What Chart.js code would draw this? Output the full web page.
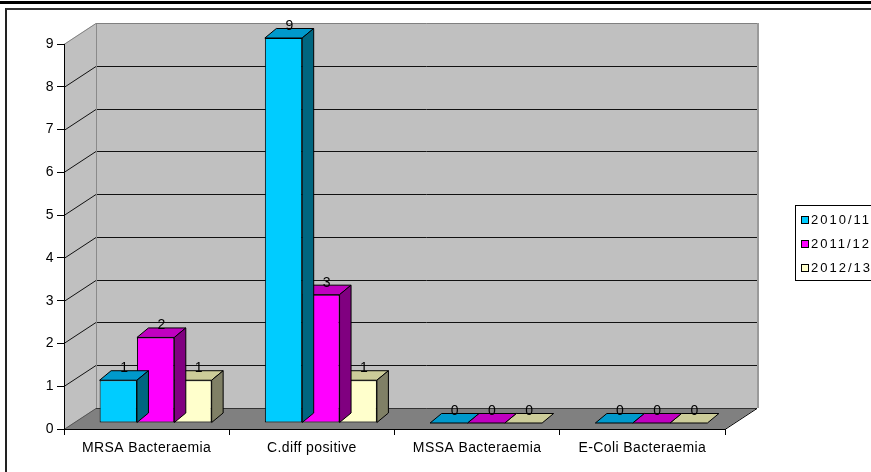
<!DOCTYPE html>
<html><head><meta charset="utf-8">
<script src="https://cdn.jsdelivr.net/npm/chart.js@4/dist/chart.umd.min.js"></script>
<style>
html,body{margin:0;padding:0;background:#fff;}
#wrap{position:relative;width:871px;height:472px;overflow:hidden;}
#rule{position:absolute;left:0;top:1px;width:871px;height:3px;background:#000;}
#frame{position:absolute;left:5px;top:8px;width:900px;height:500px;border-top:2px solid #333;border-left:2px solid #222;}
canvas{position:absolute;left:0;top:0;}
</style></head><body>
<div id="wrap"><div id="rule"></div><div id="frame"></div><canvas id="c" width="871" height="472"></canvas></div>
<script>
// ---- data ----
const categories = ['MRSA Bacteraemia', 'C.diff positive', 'MSSA Bacteraemia', 'E-Coli Bacteraemia'];
const seriesLabels = ['2010/11', '2011/12', '2012/13'];
const values2010 = [1, 9, 0, 0];
const values2011 = [2, 3, 0, 0];
const values2012 = [1, 1, 0, 0];
const yTicks = [0, 1, 2, 3, 4, 5, 6, 7, 8, 9];

// ---- styles ----
const FONT = '"Liberation Sans", Arial, sans-serif';
const frontColors = ['#00ccff', '#ff00ff', '#ffffcc'];
const topColors = ['#0099cc', '#c000c0', '#cccc99'];
const sideColors = ['#006680', '#800080', '#808066'];
const DXW = 32, DYW = -21;     // wall depth offset
const DXB = 9, DYB = -6;       // bar front plane offset
const DDX = 11.5, DDY = -9.5;  // bar depth

function poly(ctx, pts, fill, stroke) {
  ctx.beginPath();
  ctx.moveTo(pts[0][0], pts[0][1]);
  for (let i = 1; i < pts.length; i++) ctx.lineTo(pts[i][0], pts[i][1]);
  ctx.closePath();
  if (fill) { ctx.fillStyle = fill; ctx.fill(); }
  if (stroke) { ctx.strokeStyle = stroke; ctx.lineWidth = 1; ctx.stroke(); }
}
function line(ctx, x1, y1, x2, y2, color, w) {
  ctx.beginPath(); ctx.moveTo(x1, y1); ctx.lineTo(x2, y2);
  ctx.strokeStyle = color; ctx.lineWidth = w || 1; ctx.stroke();
}

const threeD = {
  id: 'threeD',
  beforeDraw(chart) {
    const ctx = chart.ctx, a = chart.chartArea, ys = chart.scales.y;
    const L = a.left, R = a.right;
    const T = Math.round(ys.getPixelForValue(yTicks[yTicks.length - 1]));
    const B = Math.round(ys.getPixelForValue(0));
    ctx.save();
    ctx.fillStyle = '#c0c0c0';
    ctx.fillRect(L + DXW, T + DYW, R - L, B - T);
    poly(ctx, [[L, T], [L + DXW, T + DYW], [L + DXW, B + DYW], [L, B]], '#c0c0c0');
    poly(ctx, [[L, B], [R, B], [R + DXW, B + DYW], [L + DXW, B + DYW]], '#808080');
    yTicks.forEach(v => {
      if (v === 0 || v === yTicks[yTicks.length - 1]) return;
      const y = Math.round(ys.getPixelForValue(v)) + 0.5;
      line(ctx, L + DXW, y + DYW, R + DXW, y + DYW, '#111');
      line(ctx, L, y, L + DXW, y + DYW, '#111');
    });
    line(ctx, L + DXW + 0.5, T + DYW, L + DXW + 0.5, B + DYW, '#8a8a8a');
    line(ctx, L + DXW, T + DYW + 0.5, R + DXW, T + DYW + 0.5, '#808080');
    line(ctx, L, T + 0.5, L + DXW, T + DYW + 0.5, '#808080');
    line(ctx, R + DXW + 1, T + DYW, R + DXW + 1, B + DYW, '#9a9a9a', 2);
    line(ctx, L + DXW, B + DYW + 0.5, R + DXW, B + DYW + 0.5, '#333');
    line(ctx, L, B + 0.5, L + DXW, B + DYW + 0.5, '#555');
    line(ctx, R, B + 0.5, R + DXW, B + DYW + 0.5, '#000');
    ctx.restore();
    ctx.letterSpacing = '0.4px';
  },
  beforeDatasetsDraw(chart) {
    chart.ctx.save();
    chart.ctx.translate(DXB, DYB);
  },
  afterDatasetDraw(chart, args) {
    const ctx = chart.ctx, i = args.index;
    const meta = chart.getDatasetMeta(i);
    meta.data.forEach(el => {
      const p = el.getProps(['x', 'y', 'base', 'width'], true);
      const l = p.x - p.width / 2, r = p.x + p.width / 2, t = p.y, b = p.base;
      poly(ctx, [[l, t], [r, t], [r + DDX, t + DDY], [l + DDX, t + DDY]], topColors[i], '#000');
      if (b - t > 0.5) {
        poly(ctx, [[r, t], [r + DDX, t + DDY], [r + DDX, b + DDY], [r, b]], sideColors[i], '#000');
      }
    });
  },
  afterDatasetsDraw(chart) {
    const ctx = chart.ctx;
    ctx.fillStyle = '#000';
    ctx.font = '14px ' + FONT;
    ctx.letterSpacing = '0px';
    ctx.textAlign = 'center';
    ctx.textBaseline = 'middle';
    chart.data.datasets.forEach((ds, i) => {
      chart.getDatasetMeta(i).data.forEach((el, j) => {
        const p = el.getProps(['x', 'y'], true);
        ctx.fillText(String(ds.data[j]), p.x + DDX / 2, p.y - 12);
      });
    });
    ctx.restore();
  },
  afterDraw(chart) {
    const ctx = chart.ctx;
    ctx.save();
    ctx.fillStyle = '#fff';
    ctx.fillRect(795.5, 205.5, 120, 75);
    ctx.strokeStyle = '#000'; ctx.lineWidth = 1;
    ctx.strokeRect(795.5, 205.5, 120, 75);
    ctx.font = '13px ' + FONT;
    ctx.letterSpacing = '2px';
    ctx.textAlign = 'left'; ctx.textBaseline = 'middle';
    chart.data.datasets.forEach((ds, i) => {
      const cy = 220 + i * 24;
      ctx.fillStyle = frontColors[i];
      ctx.fillRect(801.5, cy - 3.5, 7, 7);
      ctx.strokeStyle = '#000';
      ctx.strokeRect(801.5, cy - 3.5, 7, 7);
      ctx.fillStyle = '#000';
      ctx.fillText(ds.label, 811, cy + 0.5);
    });
    ctx.restore();
  }
};

const datasets = [values2010, values2011, values2012].map((vals, i) => ({
  label: seriesLabels[i],
  data: vals,
  backgroundColor: frontColors[i],
  borderColor: '#000',
  borderWidth: c => (c.raw === 0 ? 0 : 1),
  borderSkipped: false,
  categoryPercentage: 0.678,
  barPercentage: 1,
  clip: false
}));

new Chart(document.getElementById('c'), {
  type: 'bar',
  data: { labels: categories, datasets },
  plugins: [threeD],
  options: {
    responsive: false,
    animation: false,
    devicePixelRatio: 1,
    layout: { padding: { left: 0, top: 44, right: 146, bottom: 0 } },
    plugins: { legend: { display: false }, tooltip: { enabled: false } },
    scales: {
      x: {
        offset: true,
        grid: { offset: true, drawOnChartArea: false, drawTicks: true, tickLength: 6, color: '#000' },
        border: { display: true, color: '#000' },
        ticks: { color: '#000', font: { family: FONT, size: 14 }, padding: 5, maxRotation: 0, autoSkip: false },
        afterFit(s) { s.height = 43; }
      },
      y: {
        min: yTicks[0], max: yTicks[yTicks.length - 1],
        afterBuildTicks(s) { s.ticks = yTicks.map(v => ({ value: v })); },
        grid: { drawOnChartArea: false, drawTicks: true, tickLength: 7, color: '#000' },
        border: { display: true, color: '#000' },
        ticks: { color: '#000', font: { family: FONT, size: 14 }, padding: 3 },
        afterFit(s) { s.width = 64; }
      }
    }
  }
});
</script>
</body></html>
